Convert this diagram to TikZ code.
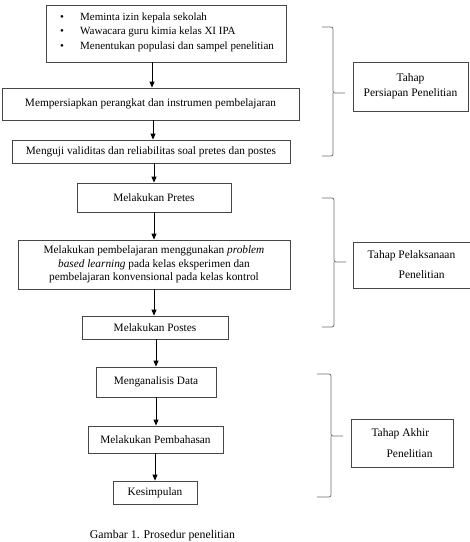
\documentclass[tikz,border=0pt]{standalone}
\usepackage{fontspec}
\setmainfont{Liberation Serif}
\usetikzlibrary{arrows.meta}
\definecolor{boxgray}{RGB}{70,70,70}
\definecolor{bracegray}{RGB}{110,110,110}
\begin{document}
\begin{tikzpicture}[x=1pt,y=-1pt,
  stepbox/.style={draw=boxgray,line width=0.8pt,rectangle,inner sep=0pt,font=\fontsize{11.3}{13.7}\selectfont,align=center},
  bullettext/.style={anchor=base west,font=\fontsize{11}{13}\selectfont,inner sep=0pt},
  flow/.style={-{Triangle[length=6pt,width=5pt]},line width=0.9pt,black},
  bracepath/.style={draw=bracegray,line width=0.8pt,rounded corners=2pt}]
\useasboundingbox (0,0) rectangle (470,542);
% left column
\node[stepbox,minimum width=240pt,minimum height=57pt] (b1) at (166,33.5) {};
\node[bullettext] (l1) at (60,20) {\makebox[20pt][l]{\textbullet}Meminta izin kepala sekolah};
\node[bullettext] (l2) at (60,34.5) {\makebox[20pt][l]{\textbullet}Wawacara guru kimia kelas XI IPA};
\node[bullettext] (l3) at (60,49) {\makebox[20pt][l]{\textbullet}Menentukan populasi dan sampel penelitian};
\node[stepbox,minimum width=297pt,minimum height=32pt] (b2) at (150.5,104) {Mempersiapkan perangkat dan instrumen pembelajaran};
\node[stepbox,minimum width=278pt,minimum height=23pt] (b3) at (151,151.5) {Menguji validitas dan reliabilitas soal pretes dan postes};
\node[stepbox,minimum width=154pt,minimum height=29pt] (b4) at (154,197.5) {Melakukan Pretes};
\node[stepbox,minimum width=272pt,minimum height=49pt] (b5) at (154,264.5) {Melakukan pembelajaran menggunakan \textit{problem}\\\textit{based learning} pada kelas eksperimen dan\\pembelajaran konvensional pada kelas kontrol};
\node[stepbox,minimum width=146pt,minimum height=23pt] (b6) at (155,327.5) {Melakukan Postes};
\node[stepbox,minimum width=120pt,minimum height=30pt] (b7) at (156,382) {Menganalisis Data};
\node[stepbox,minimum width=135pt,minimum height=27pt] (b8) at (155.5,439.5) {Melakukan Pembahasan};
\node[stepbox,minimum width=84pt,minimum height=23pt] (b9) at (155,492.5) {Kesimpulan};
% arrows
\coordinate (a1) at (152,0);
\coordinate (a2) at (153,0);
\coordinate (a3) at (154,0);
\coordinate (a4) at (154,0);
\coordinate (a5) at (154,0);
\coordinate (a6) at (156,0);
\coordinate (a7) at (156,0);
\coordinate (a8) at (155,0);
\draw[flow] (b1.south -| a1) -- (b2.north -| a1);
\draw[flow] (b2.south -| a2) -- (b3.north -| a2);
\draw[flow] (b3.south -| a3) -- (b4.north -| a3);
\draw[flow] (b4.south -| a4) -- (b5.north -| a4);
\draw[flow] (b5.south -| a5) -- (b6.north -| a5);
\draw[flow] (b6.south -| a6) -- (b7.north -| a6);
\draw[flow] (b7.south -| a7) -- (b8.north -| a7);
\draw[flow] (b8.south -| a8) -- (b9.north -| a8);
% right boxes
\node[stepbox,minimum width=115pt,minimum height=49pt,font=\fontsize{11.5}{15}\selectfont] (r1) at (410.5,86.5) {Tahap\\Persiapan Penelitian};
\node[stepbox,minimum width=117pt,minimum height=46pt,font=\fontsize{11.5}{20}\selectfont,align=left] (r2) at (411.5,265) {Tahap Pelaksanaan\\\hspace*{31pt}Penelitian};
\node[stepbox,minimum width=102pt,minimum height=48pt,font=\fontsize{11.5}{21}\selectfont,align=left] (r3) at (402,443) {Tahap Akhir\\\hspace*{15pt}Penelitian};
% braces
\draw[bracepath] (322,27) -- (333,27) -- (333,93) -- (345,93);
\draw[bracepath] (322,156) -- (333,156) -- (333,93);
\draw[bracepath] (322,198) -- (334,198) -- (334,262) -- (346,262);
\draw[bracepath] (322,327) -- (334,327) -- (334,262);
\draw[bracepath] (317,374) -- (331,374) -- (331,436) -- (343,436);
\draw[bracepath] (317,497) -- (331,497) -- (331,436);
% caption
\node[anchor=base,font=\fontsize{11.8}{13}\selectfont] (cap) at (162.5,538.5) {Gambar 1. Prosedur penelitian};
\end{tikzpicture}
\end{document}
